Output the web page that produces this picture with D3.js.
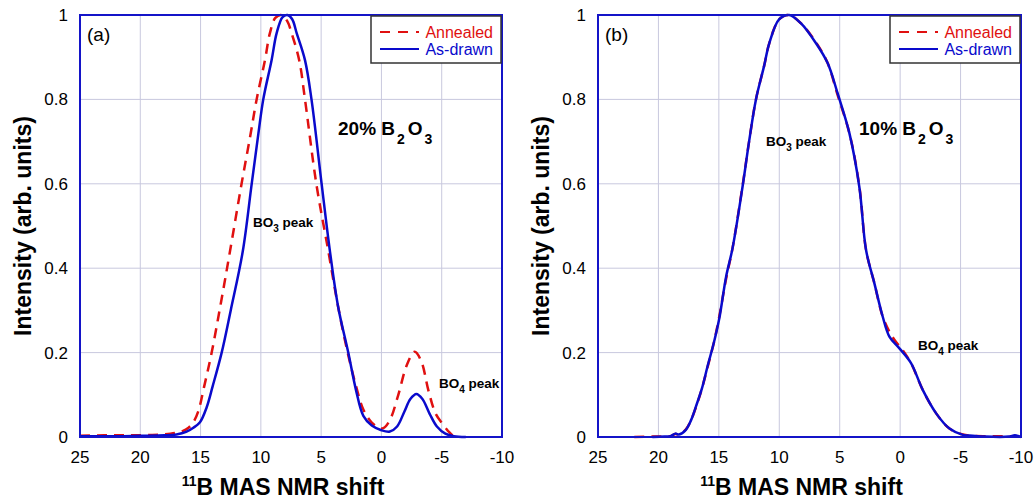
<!DOCTYPE html>
<html>
<head>
<meta charset="utf-8">
<script src="https://cdn.jsdelivr.net/npm/d3@7"></script>
<style>
  body{margin:0;background:#fff;}
  svg{display:block;font-family:Arial,"Liberation Sans",sans-serif;}
</style>
</head>
<body>
<svg id="chart" width="1036" height="502"></svg>
<script>
// data: [shift ppm, intensity]
var xTicks=[25,20,15,10,5,0,-5,-10];
var yTicks=[0,0.2,0.4,0.6,0.8,1];
var yTickLabels=["0","0.2","0.4","0.6","0.8","1"];

var annealedA=[[25,0.003],[23,0.004],[21,0.004],[19,0.005],[17.5,0.008],[16.5,0.014],[16,0.022],[15.6,0.035],[15.2,0.06],[14.7,0.12],[14.08,0.2],[13.3,0.32],[12.56,0.44],[11.6,0.6],[10.9,0.71],[10.35,0.8],[9.66,0.893],[9.25,0.957],[8.8,0.993],[8.3,1.0],[7.8,0.985],[7.45,0.957],[6.82,0.893],[6.34,0.8],[5.4,0.6],[4.4,0.44],[3.6,0.31],[2.8,0.2],[2.1,0.12],[1.5,0.065],[0.8,0.034],[0.2,0.022],[-0.15,0.021],[-0.7,0.04],[-1.4,0.1],[-2.1,0.17],[-2.75,0.202],[-3.3,0.18],[-3.9,0.11],[-4.5,0.055],[-5.1,0.03],[-5.6,0.012],[-6,0.001]];
var asDrawnA=[[25,0.002],[22,0.002],[20,0.003],[18,0.004],[17,0.006],[16.2,0.012],[15.6,0.022],[15.05,0.035],[14.5,0.07],[14,0.12],[13.25,0.2],[12.5,0.3],[11.5,0.44],[10.76,0.6],[10.2,0.72],[9.8,0.8],[9.11,0.893],[8.69,0.957],[8.2,0.995],[7.8,1.0],[7.4,0.99],[7.03,0.957],[6.34,0.893],[5.8,0.8],[4.96,0.6],[4.27,0.44],[3.6,0.31],[2.75,0.2],[2.1,0.11],[1.5,0.05],[0.8,0.027],[0,0.016],[-0.7,0.013],[-1.3,0.025],[-1.9,0.06],[-2.4,0.09],[-2.9,0.102],[-3.4,0.09],[-4,0.055],[-4.6,0.025],[-5.3,0.008],[-6,0.002],[-7,0]];

var annealedB=[[22,0],[20.5,0.001],[19.5,0.001],[19,0.002],[18.6,0.007],[18.3,0.006],[17.73,0.018],[17.3,0.04],[16.9,0.07],[16.4,0.115],[15.94,0.165],[15.4,0.225],[14.97,0.285],[14.4,0.375],[13.87,0.447],[13.04,0.595],[12.5,0.7],[11.93,0.8],[11.25,0.88],[10.83,0.933],[10.0,0.99],[9.18,1.0],[8.2,0.98],[6.96,0.935],[6.0,0.886],[5.17,0.81],[4.2,0.72],[3.38,0.595],[2.82,0.443],[2.13,0.364],[1.44,0.285],[0.8,0.245],[0.34,0.225],[-0.1,0.21],[-0.9,0.175],[-1.88,0.111],[-2.98,0.056],[-4.08,0.02],[-5.19,0.006],[-6,0.003],[-7,0.002],[-8.5,0.002],[-9.5,0.001]];
var asDrawnB=[[20.5,0],[19.5,0.001],[19,0.002],[18.6,0.008],[18.3,0.006],[17.73,0.017],[17.3,0.04],[16.9,0.072],[16.4,0.115],[15.94,0.167],[15.4,0.225],[14.97,0.28],[14.4,0.38],[13.87,0.447],[13.04,0.593],[12.5,0.7],[11.93,0.8],[11.25,0.88],[10.83,0.933],[10.0,0.99],[9.18,1.0],[8.2,0.98],[6.96,0.933],[6.0,0.886],[5.17,0.814],[4.2,0.72],[3.38,0.593],[2.82,0.443],[2.13,0.364],[1.44,0.285],[0.89,0.238],[0.06,0.21],[-0.9,0.175],[-1.88,0.111],[-2.98,0.056],[-4.08,0.02],[-5.19,0.005],[-6,0.003],[-7,0.001],[-9,0.001],[-9.5,0.004],[-10,0]];

var redCol="#e01010", blueCol="#0a0acc", gridCol="#c8c8de";
var svg=d3.select("#chart");

function drawPanel(p){
	var x=d3.scaleLinear().domain([25,-10]).range([p.left,p.right]);
	var y=d3.scaleLinear().domain([0,1]).range([437,15]);
	var g=svg.append("g");

	//grid
	g.selectAll(".vg").data(xTicks).enter().append("line")
		.attr("x1",function(d){return x(d);}).attr("x2",function(d){return x(d);})
		.attr("y1",y(0)).attr("y2",y(1))
		.attr("stroke",gridCol).attr("stroke-width",1);
	g.selectAll(".hg").data(yTicks).enter().append("line")
		.attr("x1",p.left).attr("x2",p.right)
		.attr("y1",function(d){return y(d);}).attr("y2",function(d){return y(d);})
		.attr("stroke",gridCol).attr("stroke-width",1);

	//tick labels
	g.selectAll(".xt").data(xTicks).enter().append("text")
		.attr("x",function(d){return x(d);}).attr("y",463)
		.attr("text-anchor","middle").attr("font-size",17).attr("fill","#000")
		.text(function(d){return d;});
	g.selectAll(".yt").data(yTicks).enter().append("text")
		.attr("x",p.left-12).attr("y",function(d){return y(d)+6;})
		.attr("text-anchor","end").attr("font-size",17).attr("fill","#000")
		.text(function(d,i){return yTickLabels[i];});

	var line=d3.line()
		.x(function(d){return x(d[0]);})
		.y(function(d){return y(d[1]);})
		.curve(d3.curveCatmullRom);

	g.append("path").datum(p.annealed).attr("d",line)
		.attr("fill","none").attr("stroke",redCol).attr("stroke-width",2.5)
		.attr("stroke-dasharray","10,7");
	g.append("path").datum(p.asDrawn).attr("d",line)
		.attr("fill","none").attr("stroke",blueCol).attr("stroke-width",2.5);

	//frame
	g.append("rect").attr("x",p.left).attr("y",y(1))
		.attr("width",p.right-p.left).attr("height",y(0)-y(1))
		.attr("fill","none").attr("stroke","#1414c8").attr("stroke-width",2);

	//legend
	var lx=p.right-131;
	g.append("rect").attr("x",lx).attr("y",16).attr("width",130).attr("height",47)
		.attr("fill","#fff").attr("stroke","#333").attr("stroke-width",1.5);
	g.append("line").attr("x1",lx+9).attr("x2",lx+48).attr("y1",32).attr("y2",32)
		.attr("stroke",redCol).attr("stroke-width",2).attr("stroke-dasharray","10,8");
	g.append("line").attr("x1",lx+9).attr("x2",lx+48).attr("y1",49).attr("y2",49)
		.attr("stroke",blueCol).attr("stroke-width",2);
	g.append("text").attr("x",p.right-9).attr("y",38).attr("text-anchor","end")
		.attr("font-size",16).attr("fill",redCol).text("Annealed");
	g.append("text").attr("x",p.right-9).attr("y",55).attr("text-anchor","end")
		.attr("font-size",16).attr("fill",blueCol).text("As-drawn");

	//panel letter
	g.append("text").attr("x",p.left+7).attr("y",41).attr("font-size",19).text(p.letter);

	//composition
	var t=g.append("text").attr("x",p.compX).attr("y",135)
		.attr("font-size",19).attr("font-weight","bold");
	t.append("tspan").text(p.comp+" B");
	t.append("tspan").attr("font-size",14).attr("dx",2).attr("dy",9).text("2");
	t.append("tspan").attr("dx",3).attr("dy",-9).text("O");
	t.append("tspan").attr("font-size",14).attr("dx",2).attr("dy",9).text("3");

	//peak labels
	function peak(px,py,n){
		var pt=g.append("text").attr("x",px).attr("y",py)
			.attr("font-size",13.5).attr("font-weight","bold");
		pt.append("tspan").text("BO");
		pt.append("tspan").attr("font-size",10).attr("dy",5).text(n);
		pt.append("tspan").attr("dy",-5).text(" peak");
	}
	peak(p.bo3[0],p.bo3[1],"3");
	peak(p.bo4[0],p.bo4[1],"4");

	//axis titles
	var xt=g.append("text").attr("x",(p.left+p.right)/2-8).attr("y",495)
		.attr("text-anchor","middle").attr("font-size",23).attr("font-weight","bold");
	xt.append("tspan").attr("font-size",14).attr("dy",-9).text("11");
	xt.append("tspan").attr("dy",9).text("B MAS NMR shift");

	g.append("text").attr("transform","translate("+(p.left-49)+",226) rotate(-90)")
		.attr("text-anchor","middle").attr("font-size",23).attr("font-weight","bold")
		.text("Intensity (arb. units)");
}

drawPanel({left:80,right:502,letter:"(a)",comp:"20%",compX:338,
	annealed:annealedA,asDrawn:asDrawnA,bo3:[253,227],bo4:[439,388]});
drawPanel({left:598,right:1021,letter:"(b)",comp:"10%",compX:859,
	annealed:annealedB,asDrawn:asDrawnB,bo3:[766,146],bo4:[918,350]});
</script>
</body>
</html>
